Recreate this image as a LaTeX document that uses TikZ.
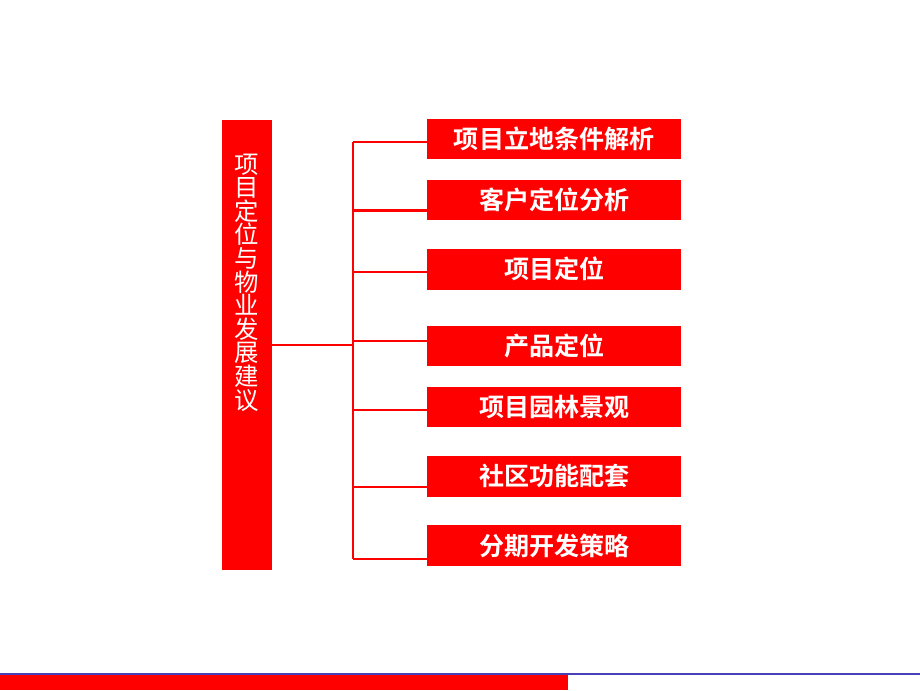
\documentclass[tikz,border=0pt]{standalone}
\usepackage{fontspec}
\newfontfamily\cjk{Noto Sans CJK SC}
\newfontfamily\cjkbold{Noto Sans CJK SC Bold}
\usetikzlibrary{positioning}
\definecolor{boxred}{RGB}{255,0,0}
\definecolor{ruleblue}{RGB}{72,64,184}
\tikzset{
  sidebox/.style={fill=boxred, draw=none, minimum width=37pt, minimum height=337.1pt, inner sep=0pt},
  sidetext/.style={text=white, align=center, inner sep=0pt, font=\cjk\fontsize{18.3}{17.7}\selectfont},
  itembox/.style={fill=boxred, draw=none, text=white, minimum width=190.1pt, minimum height=30.4pt, inner sep=0pt, font=\cjkbold\fontsize{18.8}{20}\selectfont},
  link/.style={draw=boxred, line width=1.6pt}
}

\begin{document}
\begin{tikzpicture}[x=0.75pt, y=-0.75pt]
\useasboundingbox[fill=white] (0,0) rectangle (920,690);
% left title box
\node[sidebox] (main) at (247,344.8) {};
\node[sidetext] (title) at (247,282.5) {项\\目\\定\\位\\与\\物\\业\\发\\展\\建\\议};
% right item boxes
\node[itembox] (b1) at (554.2,139.2) {\raisebox{-1pt}{项目立地条件解析}};
\node[itembox] (b2) at (554.2,200.2) {\raisebox{-1pt}{客户定位分析}};
\node[itembox] (b3) at (554.2,269.3) {\raisebox{-1pt}{项目定位}};
\node[itembox] (b4) at (554.2,346.0) {\raisebox{-1pt}{产品定位}};
\node[itembox] (b5) at (554.2,407.0) {\raisebox{-1pt}{项目园林景观}};
\node[itembox] (b6) at (554.2,476.3) {\raisebox{-1pt}{社区功能配套}};
\node[itembox] (b7) at (554.2,545.5) {\raisebox{-1pt}{分期开发策略}};
% bracket
\coordinate (hub) at (352.8,344.8);
\coordinate (s1) at (352.8,141.7);
\coordinate (s2) at (352.8,210.5);
\coordinate (s3) at (352.8,272.3);
\coordinate (s4) at (352.8,341.0);
\coordinate (s5) at (352.8,410.3);
\coordinate (s6) at (352.8,487.0);
\coordinate (s7) at (352.8,558.7);
\draw[link] (main.east) -- (hub);
\draw[link] (s1) -- (s7);
\draw[link] (s1) -- (s1 -| b1.west);
\draw[link] (s2) -- (s2 -| b2.west);
\draw[link] (s3) -- (s3 -| b3.west);
\draw[link] (s4) -- (s4 -| b4.west);
\draw[link] (s5) -- (s5 -| b5.west);
\draw[link] (s6) -- (s6 -| b6.west);
\draw[link] (s7) -- (s7 -| b7.west);
% bottom bar
\fill[boxred] (0,675) rectangle (568,690);
\draw[ruleblue, line width=1.2pt] (0,674.2) -- (920,674.2);
\end{tikzpicture}
\end{document}
